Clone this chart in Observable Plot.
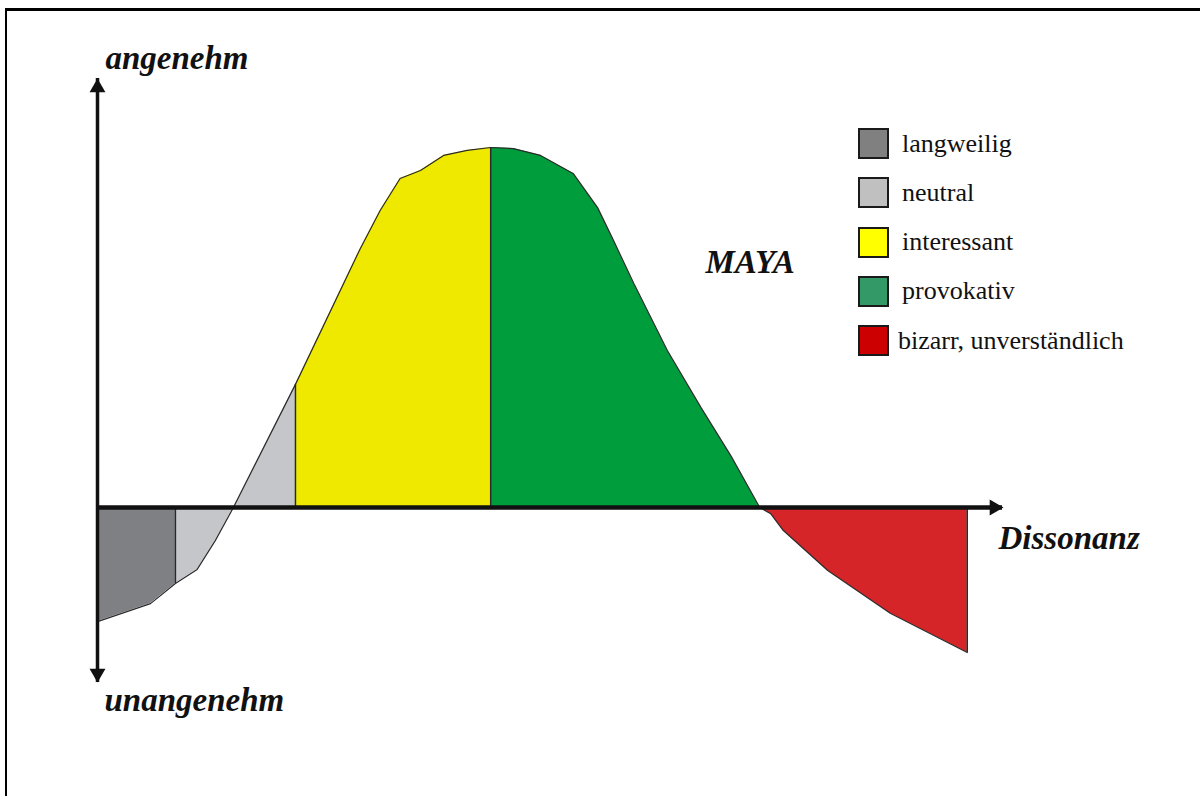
<!DOCTYPE html>
<html>
<head>
<meta charset="utf-8">
<script src="https://cdn.jsdelivr.net/npm/d3@7"></script>
<script src="https://cdn.jsdelivr.net/npm/@observablehq/plot@0.6"></script>
<style>
  html, body { margin: 0; padding: 0; background: #fff; }
  #wrap { position: relative; width: 1200px; height: 796px; overflow: hidden; }
  #frame { position: absolute; left: 5px; top: 8px; width: 1300px; height: 900px;
           border-top: 3px solid #000; border-left: 2.5px solid #000; pointer-events: none; }
  #legend { position: absolute; left: 858px; top: 128px; font-family: "Liberation Serif", serif; font-size: 26px; color: #111; }
  .row { position: absolute; left: 0; height: 31px; display: flex; align-items: center; white-space: nowrap; }
  .box { width: 27px; height: 27px; border: 2px solid #1a1a1a; margin-right: 13px; }
</style>
</head>
<body>
<div id="wrap">
  <div id="chart"></div>
  <div id="frame"></div>
  <div id="legend"></div>
</div>
<script>
// ---- data ----
const categories = ["langweilig", "neutral", "interessant", "provokativ", "bizarr, unverständlich"];
const areaColors = ["#7e8084", "#c5c6ca", "#efe900", "#009d3c", "#d52528"];
const legendColors = ["#808080", "#c0c0c0", "#ffff00", "#339966", "#cc0000"];
const regionBreaks = [0, 8.6, 21.85, 43.4, 73.1, 96.0];

const curveX = [0, 5.85, 8.6, 11.0, 13.0, 15.0, 21.85, 29.0, 31.2, 33.4, 35.65, 38.2, 40.8, 43.4, 45.9, 48.9, 52.5, 55.2, 56.95, 59.2, 62.9, 66.6, 69.9, 73.1, 74.3, 75.7, 80.6, 87.5, 96.0];
const curveY = [-31.7, -26.7, -21.1, -17.2, -9.2, 0, 34.2, 71.9, 82.5, 91.4, 93.6, 97.8, 99.2, 100, 99.7, 97.8, 92.8, 83.3, 74.2, 62.2, 43.6, 27.8, 14.4, 0, -1.7, -6.4, -17.5, -29.4, -40.3];

const axisXEnd = 100;          // Dissonanz axis arrow tip
const axisYTop = 119.2;        // angenehm arrow tip
const axisYBottom = -48.6;     // unangenehm arrow tip

const labelAngenehm = "angenehm";
const labelUnangenehm = "unangenehm";
const labelDissonanz = "Dissonanz";
const labelMaya = "MAYA";

// ---- derived tables ----
const curve = curveX.map((x, i) => ({x, y: curveY[i]}));
const regions = [];
categories.forEach((c, i) => {
  const a = regionBreaks[i], b = regionBreaks[i + 1];
  curve.filter(p => p.x >= a - 1e-9 && p.x <= b + 1e-9).forEach(p => regions.push({...p, region: c}));
});
const yAt = x => curve.find(p => Math.abs(p.x - x) < 1e-9).y;
const dividers = [regionBreaks[1], regionBreaks[2], regionBreaks[3], regionBreaks[5]].map(x => ({x, y: yAt(x)}));

const serif = "Liberation Serif, Times New Roman, serif";
const bigFont = {fontFamily: serif, fontSize: 33, fontWeight: "bold", fontStyle: "italic", fill: "#111",
                 lineAnchor: "bottom", textAnchor: "start", frameAnchor: "top-left"};

const plot = Plot.plot({
  width: 1200,
  height: 796,
  margin: 0,
  x: {domain: [0, 100], range: [97, 1003], axis: null},
  y: {domain: [-50, 120], range: [687, 75], axis: null},
  color: {domain: categories, range: areaColors},
  marks: [
    Plot.area(regions, {x1: "x", y1: () => 0, y2: "y", z: "region", fill: "region", curve: "linear"}),
    Plot.line(curve, {x: "x", y: "y", stroke: "#2a2a2a", strokeWidth: 1.2, curve: "linear"}),
    Plot.ruleX(dividers, {x: "x", y1: 0, y2: "y", stroke: "#2a2a2a", strokeWidth: 1.5}),
    // axes
    Plot.ruleY([0], {x1: 0, x2: axisXEnd, dx: -1, stroke: "#111", strokeWidth: 4.5}),
    Plot.ruleX([0], {y1: axisYBottom, y2: axisYTop, stroke: "#111", strokeWidth: 3.5}),
    Plot.dot([{x: 0, y: axisYTop}], {x: "x", y: "y", symbol: "triangle", r: 5.9, fill: "#111", stroke: "none", dy: 9.2}),
    Plot.dot([{x: 0, y: axisYBottom}], {x: "x", y: "y", symbol: "triangle", r: 5.9, fill: "#111", stroke: "none", dy: -9.2, rotate: 180}),
    Plot.dot([{x: axisXEnd, y: 0}], {x: "x", y: "y", symbol: "triangle", r: 5.9, fill: "#111", stroke: "none", dx: -9.2, rotate: 90}),
    // labels
    Plot.text([labelAngenehm], {...bigFont, text: d => d, dx: 105, dy: 68}),
    Plot.text([labelUnangenehm], {...bigFont, text: d => d, dx: 104, dy: 710}),
    Plot.text([labelDissonanz], {...bigFont, text: d => d, dx: 998, dy: 548}),
    Plot.text([labelMaya], {...bigFont, text: d => d, dx: 705, dy: 272})
  ]
});
document.getElementById("chart").appendChild(plot);

// legend
const legend = document.getElementById("legend");
categories.forEach((c, i) => {
  const row = document.createElement("div");
  row.className = "row";
  row.style.top = (i * 49.3) + "px";
  const box = document.createElement("div");
  box.className = "box";
  box.style.background = legendColors[i];
  const t = document.createElement("span");
  t.textContent = c;
  if (i === 4) box.style.marginRight = "9px";
  row.appendChild(box);
  row.appendChild(t);
  legend.appendChild(row);
});
</script>
</body>
</html>
